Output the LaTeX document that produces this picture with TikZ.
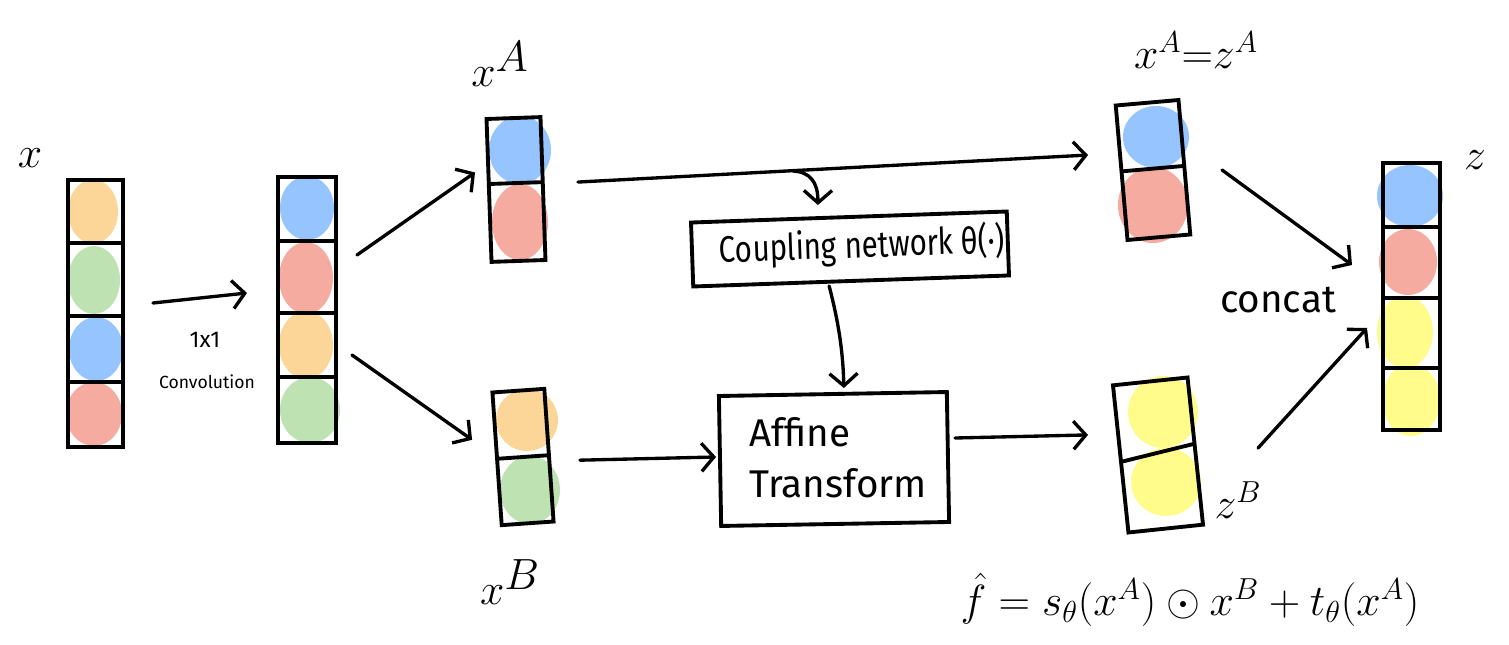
\documentclass[tikz,border=0pt]{standalone}
\usepackage{fontspec}
\usepackage{graphicx}
\setmainfont{Fira Sans}
\usetikzlibrary{arrows.meta,calc}
\pgfdeclarelayer{bg}
\pgfsetlayers{bg,main}
\definecolor{cblue}{RGB}{150,196,255}
\definecolor{cred}{RGB}{246,171,161}
\definecolor{corange}{RGB}{251,214,152}
\definecolor{cgreen}{RGB}{191,226,178}
\definecolor{cyellow}{RGB}{255,252,140}
\tikzset{
  col/.style={draw=black, line width=2.2pt, rectangle, inner sep=0pt, outer sep=0pt},
  blockbox/.style={draw=black, line width=2.2pt, rectangle, inner sep=0pt, outer sep=0pt},
  conn/.style={draw=black, line width=1.9pt, line cap=round, -{Straight Barb[length=7pt,width=16pt,line width=1.9pt]}},
  lbl/.style={inner sep=0pt, font=\fontsize{36}{40}\selectfont},
}
\begin{document}
\begin{tikzpicture}[x=0.02cm, y=-0.02cm]
\useasboundingbox (0,0) rectangle (1509,645);

% ---------- columns ----------
\node[col, minimum width=1.1cm, minimum height=5.34cm] (colx) at (95.5,313.5) {};
\node[col, minimum width=1.16cm, minimum height=5.32cm] (colc) at (307,310) {};
\node[col, minimum width=1.08cm, minimum height=2.86cm, rotate=2] (colA) at (516,189.5) {};
\node[col, minimum width=1.04cm, minimum height=2.66cm, rotate=4] (colB) at (523,457) {};
\node[col, minimum width=1.26cm, minimum height=2.7cm, rotate=5] (colZA) at (1153,170) {};
\node[col, minimum width=1.5cm, minimum height=2.96cm, rotate=6] (colZB) at (1158,455) {};
\node[col, minimum width=1.14cm, minimum height=5.34cm] (colZ) at (1411.5,296.5) {};

% ---------- coloured blobs ----------
\begin{pgfonlayer}{bg}
  % x
  \fill[corange] (93,211.5) ellipse [x radius=25, y radius=32];
  \fill[cgreen]  (94,280) ellipse [x radius=26, y radius=34];
  \fill[cblue]   (96,349) ellipse [x radius=27, y radius=32];
  \fill[cred]    (94,414) ellipse [x radius=28, y radius=32];
  % after conv
  \fill[cblue]   (307,208) ellipse [x radius=27, y radius=32];
  \fill[cred]    (306,278) ellipse [x radius=27, y radius=36];
  \fill[corange] (306,345) ellipse [x radius=27, y radius=34];
  \fill[cgreen]  (310,410) ellipse [x radius=30, y radius=33];
  % x^A
  \fill[cblue]   (520,150) ellipse [x radius=31, y radius=34];
  \fill[cred]    (520,222) ellipse [x radius=28, y radius=38];
  % x^B
  \fill[corange] (527,420) ellipse [x radius=31, y radius=31];
  \fill[cgreen]  (530,490) ellipse [x radius=30, y radius=34];
  % z^A
  \fill[cblue]   (1156,137) ellipse [x radius=33, y radius=31];
  \fill[cred]    (1153,205) ellipse [x radius=35, y radius=38];
  % z^B
  \fill[cyellow] (1163,412) ellipse [x radius=35, y radius=36];
  \fill[cyellow] (1166,482) ellipse [x radius=35, y radius=34];
  % z
  \fill[cblue]   (1410,196) ellipse [x radius=33, y radius=31];
  \fill[cred]    (1408,262) ellipse [x radius=29, y radius=33];
  \fill[cyellow] (1405,332) ellipse [x radius=28, y radius=36];
  \fill[cyellow] (1411,400) ellipse [x radius=29, y radius=36];
\end{pgfonlayer}

% ---------- cell separators ----------
\foreach \f in {0.236,0.509,0.757}
  \draw[line width=2.2pt] ($(colx.north west)!\f!(colx.south west)$) -- ($(colx.north east)!\f!(colx.south east)$);
\foreach \f in {0.241,0.511,0.752}
  \draw[line width=2.2pt] ($(colc.north west)!\f!(colc.south west)$) -- ($(colc.north east)!\f!(colc.south east)$);
\draw[line width=2.2pt] ($(colA.north west)!0.455!(colA.south west)$) -- ($(colA.north east)!0.455!(colA.south east)$);
\draw[line width=2.2pt] ($(colB.north west)!0.5!(colB.south west)$) -- ($(colB.north east)!0.5!(colB.south east)$);
\draw[line width=2.2pt] ($(colZA.north west)!0.49!(colZA.south west)$) -- ($(colZA.north east)!0.49!(colZA.south east)$);
\draw[line width=2.2pt] ($(colZB.north west)!0.52!(colZB.south west)$) -- ($(colZB.north east)!0.45!(colZB.south east)$);
\foreach \f in {0.24,0.506,0.768}
  \draw[line width=2.2pt] ($(colZ.north west)!\f!(colZ.south west)$) -- ($(colZ.north east)!\f!(colZ.south east)$);

% ---------- blocks ----------
\node[blockbox, minimum width=6.32cm, minimum height=1.28cm, rotate=2] (coup) at (850,249) {};
\node[inner sep=0pt, font=\fontsize{21}{24}\selectfont, rotate=2] (couptext) at (862,246) {\scalebox{0.8}[1]{Coupling network θ(·)}};
\node[blockbox, minimum width=4.56cm, minimum height=2.6cm, rotate=1] (aff) at (834,459) {};
\node[inner sep=0pt, align=left, font=\fontsize{22}{29}\selectfont] (afftext) at (838,458) {Affine\\Transform};

% ---------- connectors ----------
\draw[conn] ($(colx.east)+(30,-10.5)$) -- ($(colc.west)+(-31,-17)$);
\draw[conn] ($(colc.east)+(21,-55)$) -- ($(colA.west)+(-14,-18)$);
\draw[conn] ($(colc.east)+(16,45)$) -- ($(colB.west)+(-25,-19)$);
\draw[conn] ($(colA.east)+(35,-6.5)$) -- ($(colZA.west)+(-33.6,-17.7)$);
\coordinate (split) at (793,171);
\draw[conn] (split) .. controls (810,172) and (818,182) .. ($(coup.north)+(-31,-12)$);
\draw[conn] ($(coup.south)+(-22,5)$) .. controls (838,320) and (843,350) .. ($(aff.north)+(11,-6)$);
\draw[conn] ($(colB.east)+(31,5)$) -- ($(aff.west)+(-4,-4)$);
\draw[conn] ($(aff.east)+(7,-19)$) -- ($(colZB.west)+(-32.7,-24)$);
\draw[conn] ($(colZA.east)+(37.6,2.7)$) -- ($(colZ.west)+(-31,-31.5)$);
\draw[conn] ($(colZB.east)+(62.7,-3)$) -- ($(colZ.west)+(-16,31.5)$);

% ---------- labels ----------
\node[lbl] (lx) at (30,158) {$x$};
\node[lbl] (lxA) at (500,64) {$x^{A}$};
\node[lbl] (lxB) at (510,582) {$x^{B}$};
\node[lbl, font=\fontsize{26}{30}\selectfont] (lzA) at (1196,50) {$x^{A}{=}z^{A}$};
\node[lbl] (lz) at (1475,160) {$z$};
\node[lbl, font=\fontsize{26}{30}\selectfont] (lzB) at (1238,500) {$z^{B}$};
\node[inner sep=0pt, font=\fontsize{22}{26}\selectfont] (lconcat) at (1278,300) {concat};
\node[inner sep=0pt, font=\fontsize{13}{15}\selectfont] (lconv1) at (205,340) {1x1};
\node[inner sep=0pt, font=\fontsize{10}{12}\selectfont] (lconv2) at (207,382) {Convolution};
\node[inner sep=0pt, font=\fontsize{24}{28}\selectfont] (formula) at (1190,600)
  {$\hat{f} = s_{\theta}(x^{A}) \odot x^{B} + t_{\theta}(x^{A})$};
\end{tikzpicture}
\end{document}
